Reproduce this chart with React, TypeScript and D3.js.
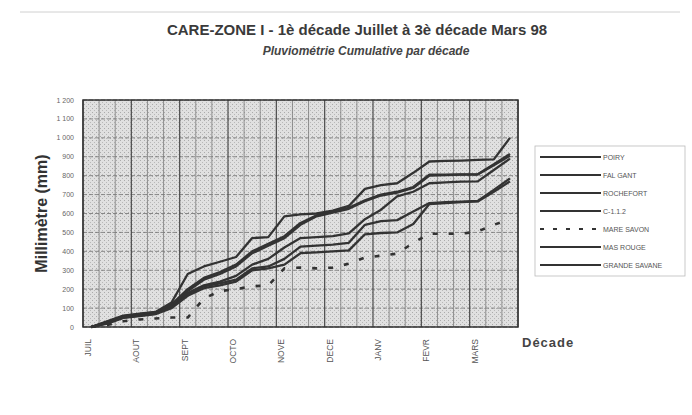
import React from 'react';
import * as d3 from 'd3';

// month labels (first decade of each month)
const months = ['JUIL', 'AOUT', 'SEPT', 'OCTO', 'NOVE', 'DECE', 'JANV', 'FEVR', 'MARS'];

const yValues = [0, 100, 200, 300, 400, 500, 600, 700, 800, 900, 1000, 1100, 1200];
const yLabels = ['0', '100', '200', '300', '400', '500', '600', '700', '800', '900', '1 000', '1 100', '1 200'];

// cumulative rainfall per decade (mm), 27 decades Jul 1 -> Mar 3
const poiry = [0, 30, 60, 70, 80, 130, 280, 320, 345, 370, 470, 475, 585, 595, 600, 615, 640, 730, 750, 760, 815, 875, 878, 880, 883, 886, 1000];
const falGant = [0, 25, 55, 65, 75, 120, 200, 260, 290, 330, 400, 440, 480, 550, 590, 610, 630, 670, 700, 715, 740, 805, 806, 807, 808, 860, 915];
const rochefort = [0, 28, 58, 68, 78, 115, 190, 250, 280, 320, 390, 430, 470, 540, 585, 605, 625, 665, 695, 710, 735, 800, 803, 805, 806, 855, 905];
const c112 = [0, 20, 50, 60, 70, 110, 180, 220, 240, 270, 330, 360, 420, 470, 475, 480, 495, 570, 620, 690, 715, 760, 765, 768, 770, 830, 890];
const mareSavon = [0, 10, 30, 40, 45, 50, 50, 150, 190, 200, 215, 220, 310, 314, 310, 314, 335, 367, 377, 388, 445, 493, 493, 493, 505, 540, 570];
const masRouge = [0, 22, 52, 62, 72, 105, 170, 215, 230, 250, 310, 320, 360, 425, 430, 435, 445, 540, 560, 565, 610, 655, 660, 663, 666, 725, 785];
const grandeSavane = [0, 18, 48, 58, 68, 100, 165, 205, 220, 240, 300, 310, 330, 390, 395, 400, 405, 490, 497, 500, 545, 650, 655, 660, 664, 715, 770];

const seriesNames = ['POIRY', 'FAL GANT', 'ROCHEFORT', 'C-1.1.2', 'MARE SAVON', 'MAS ROUGE', 'GRANDE SAVANE'];
const seriesValues = [poiry, falGant, rochefort, c112, mareSavon, masRouge, grandeSavane];

const App: React.FC = () => {
  const width = 692;
  const height = 415;
  const plot = { left: 83, right: 518, top: 100, bottom: 327 };
  const nDecades = 27;

  const x = d3.scaleLinear().domain([0, nDecades]).range([plot.left, plot.right]);
  const y = d3.scaleLinear().domain([0, 1200]).range([plot.bottom, plot.top]);

  const line = d3
    .line<number>()
    .x((_, i) => x(i + 0.5))
    .y(d => y(d));

  const legendY = d3.scaleLinear().domain([0, 6]).range([157, 265]);
  const font = 'Liberation Sans, Arial, sans-serif';

  return (
    <svg
      width={width}
      height={height}
      style={{ position: 'absolute', left: 0, top: 0, background: '#fff' }}
      fontFamily={font}
    >
      <defs>
        <pattern id="stipple" width="4" height="4" patternUnits="userSpaceOnUse">
          <rect width="4" height="4" fill="#e0e0e0" />
          <rect x="0" y="0" width="1" height="1" fill="#ababab" />
          <rect x="2" y="2" width="1" height="1" fill="#b8b8b8" />
        </pattern>
      </defs>

      {/* faint scan frame */}
      <line x1={20} x2={680} y1={12} y2={12} stroke="#d0d0d0" strokeWidth={1} />

      {/* titles */}
      <text x={357} y={35} textAnchor="middle" fontSize={15} fontWeight="bold" fill="#3a3a3a">
        CARE-ZONE I - 1è décade Juillet à 3è décade Mars 98
      </text>
      <text x={366} y={55} textAnchor="middle" fontSize={12} fontWeight="bold" fontStyle="italic" fill="#444">
        Pluviométrie Cumulative par décade
      </text>

      {/* plot background */}
      <rect
        x={plot.left}
        y={plot.top}
        width={plot.right - plot.left}
        height={plot.bottom - plot.top}
        fill="url(#stipple)"
      />

      {/* horizontal grid */}
      {yValues.map(v => (
        <line
          key={'h' + v}
          x1={plot.left}
          x2={plot.right}
          y1={y(v)}
          y2={y(v)}
          stroke="#707070"
          strokeWidth={0.8}
          strokeDasharray="4,2"
        />
      ))}

      {/* vertical grid, one per decade */}
      {d3.range(0, nDecades + 1).map(k => (
        <line
          key={'v' + k}
          x1={x(k)}
          x2={x(k)}
          y1={plot.top}
          y2={plot.bottom}
          stroke={k % 3 === 0 ? '#4a4a4a' : '#7a7a7a'}
          strokeWidth={k % 3 === 0 ? 1.2 : 0.8}
        />
      ))}

      <rect
        x={plot.left}
        y={plot.top}
        width={plot.right - plot.left}
        height={plot.bottom - plot.top}
        fill="none"
        stroke="#333"
        strokeWidth={1.5}
      />

      {/* y tick labels */}
      {yValues.map((v, i) => (
        <text key={'yl' + v} x={74} y={y(v) + 2.5} textAnchor="end" fontSize={7} fill="#666">
          {yLabels[i]}
        </text>
      ))}

      {/* x month labels */}
      {months.map((m, i) => (
        <text
          key={m}
          transform={`translate(${x(i * 3 + 0.5)},${339}) rotate(-90)`}
          textAnchor="end"
          fontSize={8.5}
          fill="#555"
        >
          {m}
        </text>
      ))}

      {/* axis titles */}
      <text
        transform={`translate(47,${(plot.top + plot.bottom) / 2}) rotate(-90)`}
        textAnchor="middle"
        fontSize={16}
        fontWeight="bold"
        fill="#333"
      >
        Millimètre (mm)
      </text>
      <text x={522} y={347} fontSize={13} fontWeight="bold" fill="#444" letterSpacing={1}>
        Décade
      </text>

      {/* series */}
      {seriesValues.map((vals, s) => (
        <path
          key={seriesNames[s]}
          d={line(vals) || ''}
          fill="none"
          stroke="#333"
          strokeWidth={s === 4 ? 2.6 : 2.3}
          strokeDasharray={s === 4 ? '5,11' : undefined}
          strokeLinejoin="round"
        />
      ))}

      {/* legend */}
      <rect x={535} y={146} width={150} height={130} fill="#fff" stroke="#bbb" strokeWidth={0.8} />
      {seriesNames.map((name, s) => (
        <g key={'lg' + name}>
          <line
            x1={540}
            x2={601}
            y1={legendY(s)}
            y2={legendY(s)}
            stroke="#333"
            strokeWidth={2}
            strokeDasharray={s === 4 ? '4,9' : undefined}
          />
          <text x={603} y={legendY(s) + 2.5} fontSize={7} fill="#555">
            {name}
          </text>
        </g>
      ))}
    </svg>
  );
};

export default App;
